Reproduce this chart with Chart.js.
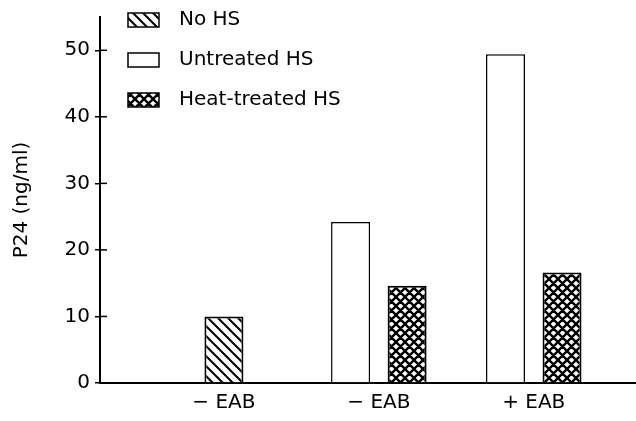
<!DOCTYPE html>
<html>
<head>
<meta charset="utf-8">
<script src="https://cdn.jsdelivr.net/npm/chart.js@4"></script>
<style>
  html, body { margin: 0; padding: 0; background: #fff; }
  #wrap { width: 636px; height: 421px; }
</style>
</head>
<body>
<div id="wrap"><canvas id="p24Chart" width="636" height="421"></canvas></div>
<script>
// values
const categories = ['\u2212 EAB', '\u2212 EAB', '+ EAB'];
const noHS = [10, null, null];
const untreatedHS = [null, 24.2, 49.4];
const heatTreatedHS = [null, 14.6, 16.6];
const yTicks = [0, 10, 20, 30, 40, 50];

const FONT = 'DejaVu Sans';

// hatch fills for the bars
function hatch(kind) {
  const s = kind === 'cross' ? 9 : 10;
  const c = document.createElement('canvas');
  c.width = s; c.height = s;
  const g = c.getContext('2d');
  g.fillStyle = '#fff';
  g.fillRect(0, 0, s, s);
  g.strokeStyle = '#000';
  g.lineWidth = kind === 'cross' ? 2.4 : 2;
  g.beginPath();
  for (const k of [-s, 0, s]) {
    g.moveTo(k - 1, -1); g.lineTo(k + s + 1, s + 1);
    if (kind === 'cross') { g.moveTo(k - 1, s + 1); g.lineTo(k + s + 1, -1); }
  }
  g.stroke();
  return g.createPattern(c, 'repeat');
}

const toPoints = arr => arr.map((v, i) => ({ x: i + 1, y: v }));

const barData = {
  datasets: [
    {
      label: 'No HS',
      data: toPoints(noHS),
      backgroundColor: hatch('diag'),
      borderColor: '#000',
      borderWidth: 2
    },
    {
      label: 'Untreated HS',
      data: toPoints(untreatedHS),
      backgroundColor: '#fff',
      borderColor: '#000',
      borderWidth: 1.5
    },
    {
      label: 'Heat-treated HS',
      data: toPoints(heatTreatedHS),
      backgroundColor: hatch('cross'),
      borderColor: '#000',
      borderWidth: 2
    }
  ]
};

// legend sits inside the plot, top left
const insideLegend = {
  id: 'insideLegend',
  afterDraw(chart) {
    const ctx = chart.ctx;
    ctx.save();
    chart.data.datasets.forEach((ds, i) => {
      const y = 20 + i * 40;
      ctx.fillStyle = ds.backgroundColor;
      ctx.fillRect(128, y - 7, 31, 14);
      ctx.strokeStyle = '#000';
      ctx.lineWidth = 1.5;
      ctx.strokeRect(128, y - 7, 31, 14);
      ctx.fillStyle = '#000';
      ctx.font = '20px "' + FONT + '"';
      ctx.textBaseline = 'middle';
      ctx.fillText(ds.label, 179, y);
    });
    ctx.restore();
  }
};

// tick marks cross the y axis
const crossTicks = {
  id: 'crossTicks',
  afterDraw(chart) {
    const ctx = chart.ctx;
    const yScale = chart.scales.y;
    const left = chart.chartArea.left;
    ctx.save();
    ctx.strokeStyle = '#000';
    ctx.lineWidth = 1.5;
    yTicks.forEach(v => {
      const py = yScale.getPixelForValue(v);
      ctx.beginPath();
      ctx.moveTo(left, py);
      ctx.lineTo(left + 7, py);
      ctx.stroke();
    });
    ctx.restore();
  }
};

const barConfig = {
  type: 'bar',
  data: barData,
  options: {
    responsive: false,
    animation: false,
    skipNull: true,
    categoryPercentage: 0.73,
    barPercentage: 0.7,
    maxBarThickness: 39,
    layout: { padding: { top: 14, right: 0, bottom: 0, left: 0 } },
    plugins: {
      legend: { display: false },
      tooltip: { enabled: false }
    },
    scales: {
      x: {
        type: 'linear',
        min: 0.2,
        max: 3.66,
        offset: false,
        afterBuildTicks: axis => { axis.ticks = categories.map((c, i) => ({ value: i + 1 })); },
        afterFit: axis => { axis.height = 38; },
        grid: { display: true, drawOnChartArea: false, drawTicks: false, offset: false },
        border: { display: true, color: '#000', width: 2 },
        ticks: {
          color: '#000',
          font: { family: FONT, size: 20 },
          padding: 8,
          maxRotation: 0,
          autoSkip: false,
          callback: value => categories[value - 1]
        }
      },
      y: {
        min: 0,
        max: 55,
        afterBuildTicks: axis => { axis.ticks = yTicks.map(v => ({ value: v })); },
        afterFit: axis => { axis.width = 100; },
        grid: { drawOnChartArea: false, drawTicks: true, tickLength: 5, color: '#000', lineWidth: 1.5 },
        border: { display: true, color: '#000', width: 2 },
        ticks: {
          color: '#000',
          font: { family: FONT, size: 20 },
          padding: 5
        },
        title: {
          display: true,
          text: 'P24 (ng/ml)',
          color: '#000',
          font: { family: FONT, size: 20 },
          padding: { top: 10, bottom: 0 }
        }
      }
    }
  },
  plugins: [insideLegend, crossTicks]
};

const p24Chart = new Chart(
  document.getElementById('p24Chart'),
  barConfig
);
</script>
</body>
</html>
